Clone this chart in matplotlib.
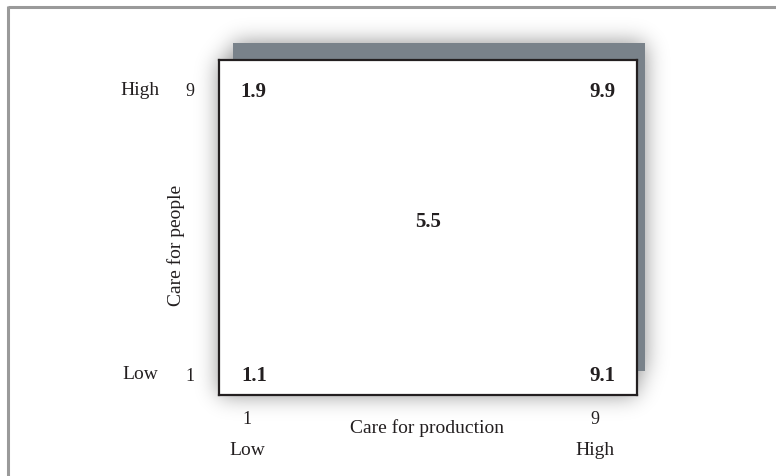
import numpy as np
import matplotlib.pyplot as plt
from matplotlib.patches import Rectangle

# Managerial grid: the five named styles (care for production, care for people)
style_labels = ["1.1", "1.9", "5.5", "9.1", "9.9"]
production = [1, 1, 5, 9, 9]
people = [1, 9, 5, 1, 9]

tick_values = [1, 9]
tick_words = ["Low", "High"]
x_title = "Care for production"
y_title = "Care for people"

W, H = 776, 477
INK = "#231f20"
SLAB = "#79828a"
FRAME = "#9a9a9a"

plt.rcParams["font.family"] = ["Liberation Serif", "DejaVu Serif"]

fig = plt.figure(figsize=(W / 100, H / 100), dpi=100)
fig.patch.set_facecolor("white")

# background layer in pixel coordinates: frame, soft shadow, gray slab
bg = fig.add_axes([0, 0, 1, 1], zorder=0)
bg.set_xlim(0, W)
bg.set_ylim(H, 0)
bg.axis("off")

box = (219, 61, 637, 396)
slab = (233, 44, 645, 372)

mask = np.zeros((H, W))
for x0, y0, x1, y1 in (box, slab):
    mask[y0:y1, x0:x1] = 1.0
k = np.exp(-0.5 * (np.arange(-36, 37) / 11.0) ** 2)
k /= k.sum()
blur = np.apply_along_axis(lambda r: np.convolve(r, k, mode="same"), 1, mask)
blur = np.apply_along_axis(lambda c: np.convolve(c, k, mode="same"), 0, blur)
shadow = np.zeros((H, W, 4))
shadow[..., 3] = 0.45 * blur
bg.imshow(shadow, extent=(0, W, H, 0), interpolation="none", zorder=1)

bg.add_patch(Rectangle((slab[0], slab[1]), slab[2] - slab[0], slab[3] - slab[1],
                       facecolor=SLAB, edgecolor="none", zorder=2))
bg.plot([8, W], [8, 8], color=FRAME, lw=2.2, solid_capstyle="butt", zorder=3)
bg.plot([8, 8], [7, H], color=FRAME, lw=2.2, solid_capstyle="butt", zorder=3)

# the grid box itself
ax = fig.add_axes([box[0] / W, 1 - box[3] / H, (box[2] - box[0]) / W,
                   (box[3] - box[1]) / H], zorder=2)
ax.set_facecolor("white")
ax.set_xlim(0.2, 9.8)
ax.set_ylim(0.44, 9.87)
ax.set_xticks([])
ax.set_yticks([])
for s in ax.spines.values():
    s.set_color(INK)
    s.set_linewidth(1.6)

for lab, px, py in zip(style_labels, production, people):
    lift = 9 if lab == "5.5" else 0
    ax.annotate(lab, xy=(px, py), xytext=(0, lift), textcoords="offset points",
                ha="center", va="center", fontsize=15,
                fontweight="bold", color=INK)

for v, w in zip(tick_values, tick_words):
    ax.annotate(str(v), xy=(v, 0), xycoords=("data", "axes fraction"),
                xytext=(-5, -17), textcoords="offset points",
                ha="center", va="center", fontsize=13, color=INK,
                annotation_clip=False)
    ax.annotate(w, xy=(v, 0), xycoords=("data", "axes fraction"),
                xytext=(-5, -39), textcoords="offset points",
                ha="center", va="center", fontsize=14, color=INK,
                annotation_clip=False)
    ax.annotate(str(v), xy=(0, v), xycoords=("axes fraction", "data"),
                xytext=(-21, 0), textcoords="offset points",
                ha="center", va="center", fontsize=13, color=INK,
                annotation_clip=False)
    ax.annotate(w, xy=(0, v), xycoords=("axes fraction", "data"),
                xytext=(-57, 1), textcoords="offset points",
                ha="center", va="center", fontsize=14, color=INK,
                annotation_clip=False)

ax.annotate(x_title, xy=(0.498, 0), xycoords="axes fraction",
            xytext=(0, -23), textcoords="offset points",
            ha="center", va="center", fontsize=14, color=INK,
            annotation_clip=False)
ax.annotate(y_title, xy=(0, 0.45), xycoords="axes fraction",
            xytext=(-31, 0), textcoords="offset points", rotation=90,
            ha="center", va="center", fontsize=14, color=INK,
            annotation_clip=False)

fig.savefig("out.png", dpi=100)
